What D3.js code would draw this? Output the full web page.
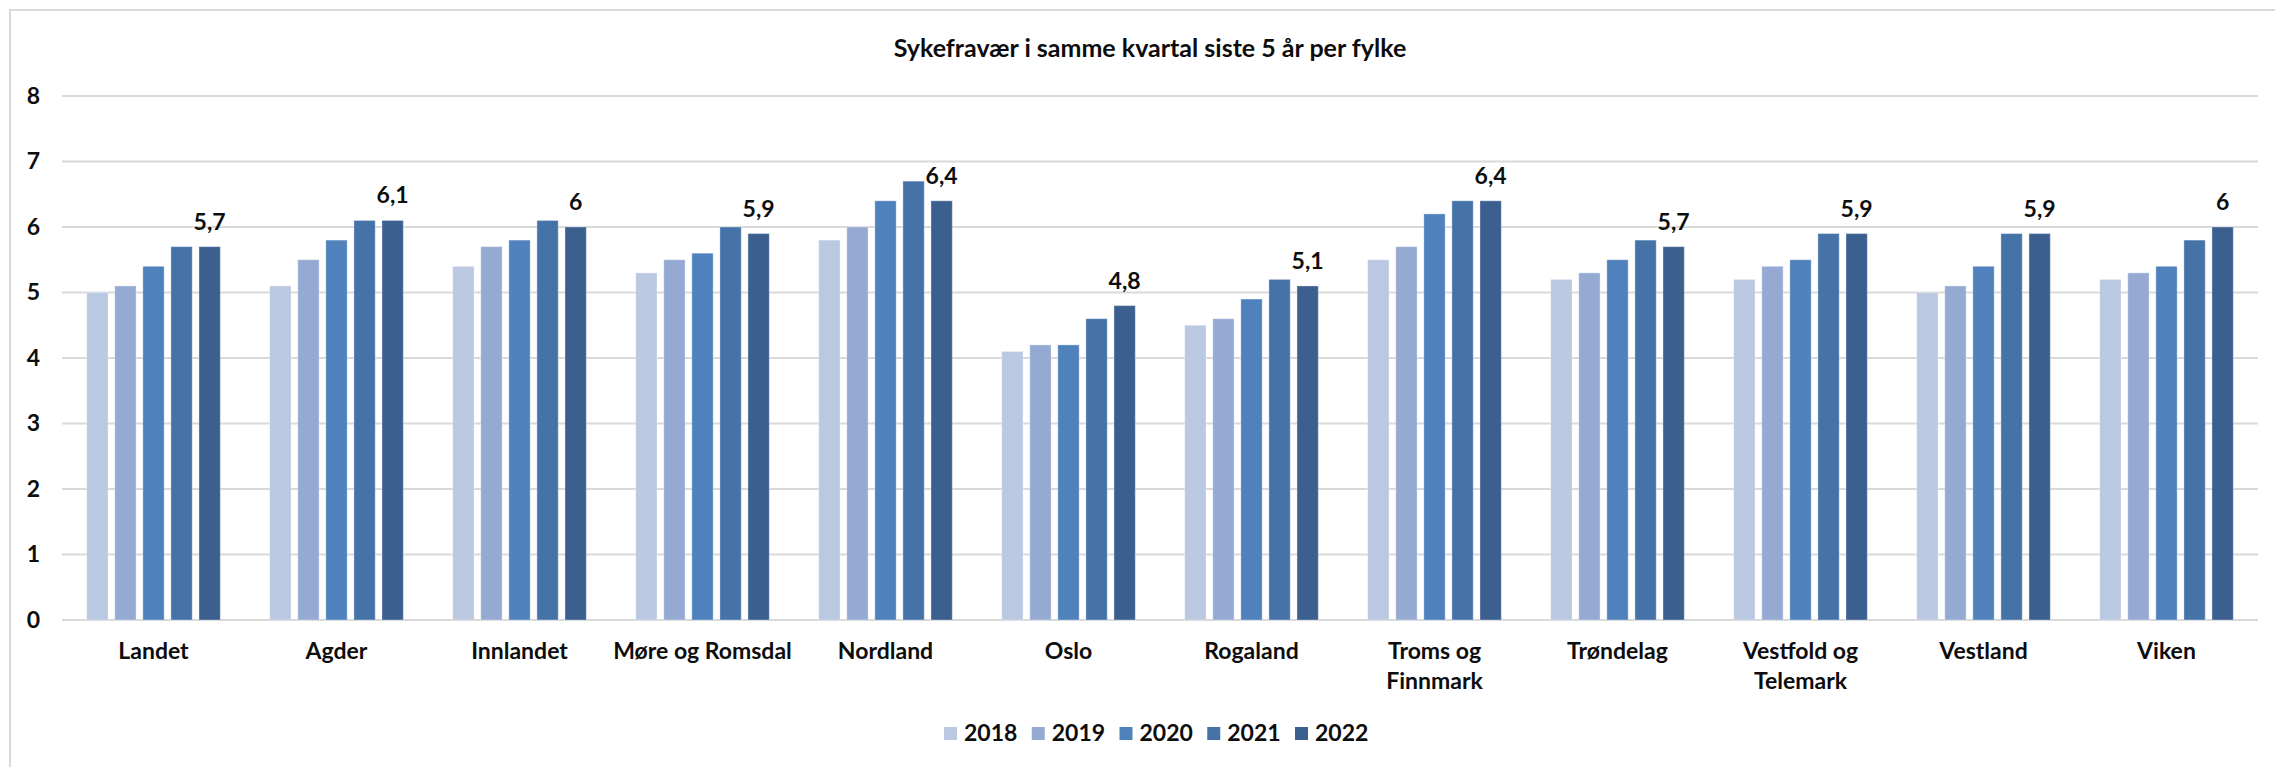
<!DOCTYPE html>
<html>
<head>
<meta charset="utf-8">
<script src="https://cdn.jsdelivr.net/npm/d3@7"></script>
<style>
  html, body { margin: 0; padding: 0; background: #fff; }
  svg text { font-family: Lato, "Open Sans", sans-serif; font-weight: bold; fill: #0d0d0d; }
</style>
</head>
<body>
<script>
// chart data
var fylker = ["Landet", "Agder", "Innlandet", "Møre og Romsdal", "Nordland", "Oslo",
  "Rogaland", "Troms og Finnmark", "Trøndelag", "Vestfold og Telemark", "Vestland", "Viken"];
var years = ["2018", "2019", "2020", "2021", "2022"];
var v2018 = [5.0, 5.1, 5.4, 5.3, 5.8, 4.1, 4.5, 5.5, 5.2, 5.2, 5.0, 5.2];
var v2019 = [5.1, 5.5, 5.7, 5.5, 6.0, 4.2, 4.6, 5.7, 5.3, 5.4, 5.1, 5.3];
var v2020 = [5.4, 5.8, 5.8, 5.6, 6.4, 4.2, 4.9, 6.2, 5.5, 5.5, 5.4, 5.4];
var v2021 = [5.7, 6.1, 6.1, 6.0, 6.7, 4.6, 5.2, 6.4, 5.8, 5.9, 5.9, 5.8];
var v2022 = [5.7, 6.1, 6.0, 5.9, 6.4, 4.8, 5.1, 6.4, 5.7, 5.9, 5.9, 6.0];
var yTicks = [0, 1, 2, 3, 4, 5, 6, 7, 8];
// labels that Excel wrapped onto two lines
var labelLines = {
  "Troms og Finnmark": ["Troms og", "Finnmark"],
  "Vestfold og Telemark": ["Vestfold og", "Telemark"]
};
var title = "Sykefravær i samme kvartal siste 5 år per fylke";

var chart = (function() {
  var W = 2275, H = 767;
  var colors = ["#bac8e1", "#95aad2", "#4f81bd", "#4573a8", "#3b5f8e"];
  var series = [v2018, v2019, v2020, v2021, v2022];
  var fs = "23px";

  var svg;

  var draw = function draw() {
    svg = d3.select("body").append("svg")
        .attr("width", W)
        .attr("height", H);

    // outer chart frame (right and bottom edges fall outside the picture)
    svg.append("rect")
        .attr("x", 10).attr("y", 10)
        .attr("width", W + 20).attr("height", H + 20)
        .attr("fill", "#fff")
        .attr("stroke", "#d9d9d9")
        .attr("stroke-width", 2);

    var x0 = d3.scaleBand()
        .domain(fylker)
        .range([62, 2258])
        .paddingInner(0.27)
        .paddingOuter(0.135);

    var x1 = d3.scaleBand()
        .domain(years)
        .range([0, x0.bandwidth()])
        .paddingInner(0.24);

    var y = d3.scaleLinear()
        .domain([0, 8])
        .range([620, 96]);

    // gridlines
    svg.append("g").selectAll("line")
        .data(yTicks)
      .enter().append("line")
        .attr("x1", 62).attr("x2", 2258)
        .attr("y1", function(d) { return y(d); })
        .attr("y2", function(d) { return y(d); })
        .attr("stroke", "#d9d9d9")
        .attr("stroke-width", 2);

    // y axis labels
    var yAxis = d3.axisLeft(y).tickValues(yTicks).tickSize(0).tickPadding(0);
    var ya = svg.append("g")
        .attr("transform", "translate(40,0)")
        .call(yAxis);
    ya.select(".domain").remove();
    ya.selectAll("text")
        .style("font-family", "Lato, 'Open Sans', sans-serif")
        .style("font-size", fs)
        .style("font-weight", "bold")
        .attr("fill", "#0d0d0d");

    // bars
    var groups = svg.append("g").selectAll("g")
        .data(fylker)
      .enter().append("g")
        .attr("transform", function(d) { return "translate(" + x0(d) + ",0)"; });

    groups.selectAll("rect")
        .data(function(d, i) {
          return years.map(function(yr, k) { return { year: yr, k: k, value: series[k][i] }; });
        })
      .enter().append("rect")
        .attr("x", function(d) { return x1(d.year); })
        .attr("y", function(d) { return y(d.value); })
        .attr("width", x1.bandwidth())
        .attr("height", function(d) { return y(0) - y(d.value); })
        .attr("fill", function(d) { return colors[d.k]; })
        .attr("stroke", "#ffffff")
        .attr("stroke-opacity", 0.35)
        .attr("stroke-width", 1);

    // data labels on 2022 only
    groups.append("text")
        .attr("x", x1("2022") + x1.bandwidth() / 2)
        .attr("y", function(d, i) { return y(v2022[i]) - 17; })
        .attr("text-anchor", "middle")
        .style("font-size", fs)
        .text(function(d, i) { return String(v2022[i]).replace(".", ","); });

    // category labels
    var cat = svg.append("g").selectAll("text")
        .data(fylker)
      .enter().append("text")
        .attr("x", function(d) { return x0(d) + x0.bandwidth() / 2; })
        .attr("y", 659)
        .attr("text-anchor", "middle")
        .style("font-size", fs);
    cat.selectAll("tspan")
        .data(function(d) { return labelLines[d] || [d]; })
      .enter().append("tspan")
        .attr("x", function() { return d3.select(this.parentNode).attr("x"); })
        .attr("dy", function(d, i) { return i === 0 ? 0 : 30; })
        .text(function(d) { return d; });

    // title
    svg.append("text")
        .attr("x", 1150)
        .attr("y", 57)
        .attr("text-anchor", "middle")
        .style("font-size", "25px")
        .text(title);

    // legend
    var leg = svg.append("g").selectAll("g")
        .data(years)
      .enter().append("g")
        .attr("transform", function(d, i) { return "translate(" + (944 + i * 87.75) + ",727)"; });
    leg.append("rect")
        .attr("width", 13).attr("height", 13)
        .attr("fill", function(d, i) { return colors[i]; });
    leg.append("text")
        .attr("x", 20)
        .attr("y", 14)
        .style("font-size", fs)
        .text(function(d) { return d; });
  };

  return { draw: draw };
})();

chart.draw();
</script>
</body>
</html>
